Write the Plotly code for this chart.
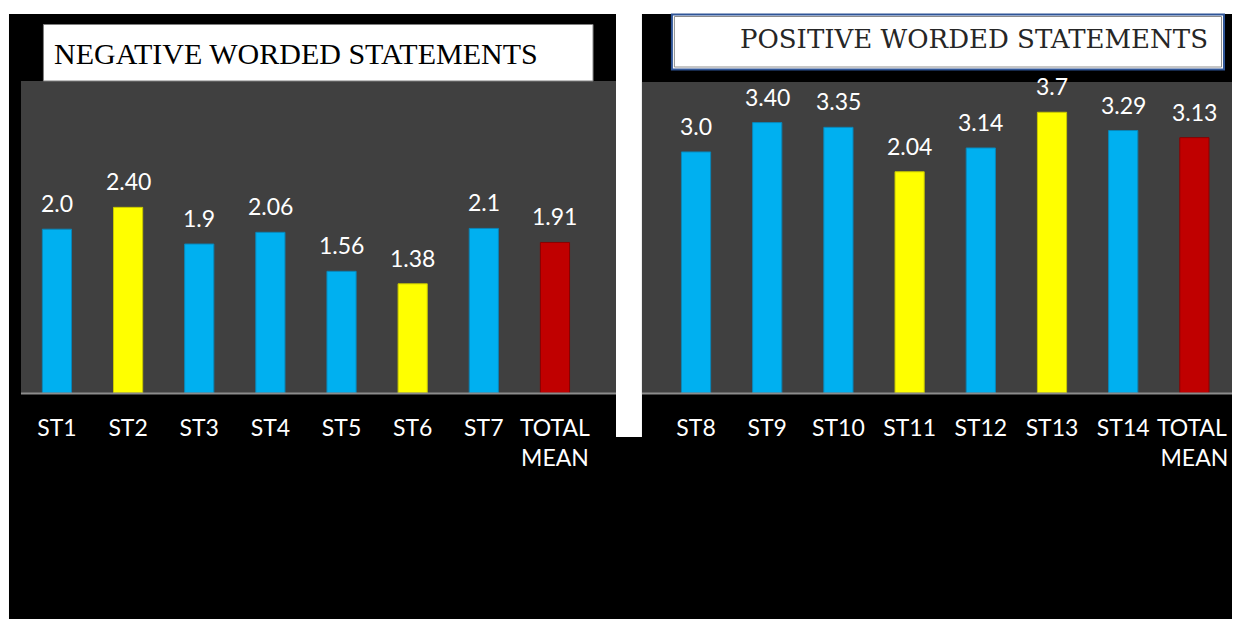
import plotly.graph_objects as go

W, H = 1234, 619

# ---------------- data ----------------
neg_categories = ["ST1", "ST2", "ST3", "ST4", "ST5", "ST6", "ST7", "TOTAL<br>MEAN"]
neg_values = [2.10, 2.38, 1.91, 2.06, 1.56, 1.40, 2.11, 1.93]
neg_labels = ["2.0", "2.40", "1.9", "2.06", "1.56", "1.38", "2.1", "1.91"]
neg_colors = ["blue", "yellow", "blue", "blue", "blue", "yellow", "blue", "red"]

pos_categories = ["ST8", "ST9", "ST10", "ST11", "ST12", "ST13", "ST14", "TOTAL <br>MEAN"]
pos_values = [3.04, 3.41, 3.35, 2.79, 3.09, 3.54, 3.31, 3.22]
pos_labels = ["3.0", "3.40", "3.35", "2.04", "3.14", "3.7", "3.29", "3.13"]
pos_colors = ["blue", "blue", "blue", "yellow", "blue", "yellow", "blue", "red"]

neg_title = "NEGATIVE WORDED STATEMENTS"
pos_title = "POSITIVE WORDED STATEMENTS"

# ---------------- styles ----------------
FILL = {"blue": "#00B0F0", "yellow": "#FFFF00", "red": "#C00000"}
EDGE = {"blue": "#0A86B8", "yellow": "#C8C800", "red": "#8A0000"}
LABEL_FONT = dict(family="Lato, 'Open Sans', sans-serif", size=23, color="white")
TICK_FONT = dict(family="Lato, 'Open Sans', sans-serif", size=23, color="white")


def px(x):
    return x / W


def py(y):
    return 1 - y / H


fig = go.Figure()

fig.add_trace(go.Bar(
    x=neg_categories, y=neg_values,
    marker=dict(color=[FILL[c] for c in neg_colors],
                line=dict(color=[EDGE[c] for c in neg_colors], width=1)),
    xaxis="x", yaxis="y", showlegend=False, hoverinfo="skip",
))
fig.add_trace(go.Bar(
    x=pos_categories, y=pos_values,
    marker=dict(color=[FILL[c] for c in pos_colors],
                line=dict(color=[EDGE[c] for c in pos_colors], width=1)),
    xaxis="x2", yaxis="y2", showlegend=False, hoverinfo="skip",
))

annotations = []
for cat, val, lab in zip(neg_categories, neg_values, neg_labels):
    annotations.append(dict(x=cat, y=val, xref="x", yref="y", text=lab,
                            showarrow=False, yanchor="bottom", yshift=10,
                            font=LABEL_FONT))
for cat, val, lab in zip(pos_categories, pos_values, pos_labels):
    annotations.append(dict(x=cat, y=val, xref="x2", yref="y2", text=lab,
                            showarrow=False, yanchor="bottom", yshift=10,
                            font=LABEL_FONT))

# titles
annotations.append(dict(x=px(52), y=py(53), xref="paper", yref="paper",
                        text=neg_title, showarrow=False, xanchor="left",
                        yanchor="middle",
                        font=dict(family="Liberation Serif, 'Times New Roman', serif",
                                  size=30, color="black")))
annotations.append(dict(x=px(739), y=py(39), xref="paper", yref="paper",
                        text=pos_title, showarrow=False, xanchor="left",
                        yanchor="middle",
                        font=dict(family="DejaVu Serif, serif", size=26,
                                  color="#262626")))

shapes = [
    # black panels
    dict(type="rect", xref="paper", yref="paper", x0=px(9), x1=px(1234),
         y0=py(619), y1=py(14), fillcolor="black", line=dict(width=0), layer="below"),
    # white gap between panels
    dict(type="rect", xref="paper", yref="paper", x0=px(617), x1=px(643),
         y0=py(437), y1=py(14), fillcolor="white", line=dict(width=0), layer="below"),
    # dark plot areas
    dict(type="rect", xref="paper", yref="paper", x0=px(21), x1=px(617),
         y0=py(393), y1=py(81), fillcolor="#404040", line=dict(width=0), layer="below"),
    dict(type="rect", xref="paper", yref="paper", x0=px(643), x1=px(1234),
         y0=py(393), y1=py(82), fillcolor="#404040", line=dict(width=0), layer="below"),
    # base lines
    dict(type="line", xref="paper", yref="paper", x0=px(21), x1=px(617),
         y0=py(393.5), y1=py(393.5), line=dict(color="#8C8C8C", width=2)),
    dict(type="line", xref="paper", yref="paper", x0=px(643), x1=px(1234),
         y0=py(393.5), y1=py(393.5), line=dict(color="#8C8C8C", width=2)),
    # title boxes
    dict(type="rect", xref="paper", yref="paper", x0=px(43.5), x1=px(594),
         y0=py(81), y1=py(24.5), fillcolor="white",
         line=dict(color="#7F7F7F", width=1), layer="below"),
    dict(type="rect", xref="paper", yref="paper", x0=px(673), x1=px(1226),
         y0=py(69.5), y1=py(14.5), fillcolor="white",
         line=dict(color="#2F5597", width=2), layer="below"),
    dict(type="rect", xref="paper", yref="paper", x0=px(675.5), x1=px(1223.5),
         y0=py(67), y1=py(16.5), fillcolor="rgba(0,0,0,0)",
         line=dict(color="#8C8C8C", width=1), layer="below"),
]

axis_common = dict(showgrid=False, zeroline=False, showline=False, ticks="",
                   fixedrange=True)

fig.update_layout(
    width=W, height=H,
    margin=dict(l=0, r=0, t=0, b=0),
    paper_bgcolor="white", plot_bgcolor="rgba(0,0,0,0)",
    bargap=0.59,
    xaxis=dict(domain=[px(21.4), px(591.5)], anchor="y", tickfont=TICK_FONT,
               ticklabelstandoff=19, **axis_common),
    yaxis=dict(domain=[py(393), py(81)], range=[0, 312 / 78.0], anchor="x",
               showticklabels=False, **axis_common),
    xaxis2=dict(domain=[px(661.5), px(1232)], anchor="y2", tickfont=TICK_FONT,
                ticklabelstandoff=19, **axis_common),
    yaxis2=dict(domain=[py(393), py(81)], range=[0, 312 / 79.3], anchor="x2",
                showticklabels=False, **axis_common),
    shapes=shapes,
    annotations=annotations,
)

fig.write_html("out.html")
